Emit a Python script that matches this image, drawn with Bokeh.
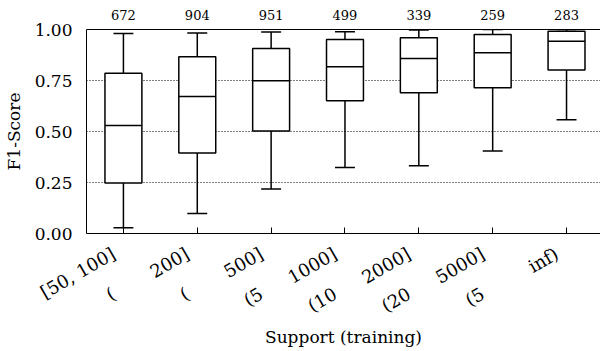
import math
from bokeh.plotting import figure
from bokeh.models import ColumnDataSource, FixedTicker, LinearAxis, Range1d
from bokeh.embed import file_html
from bokeh.resources import INLINE

# ---- data ----
bin_labels_top = ["[50, 100]", "200]", "500]", "1000]", "2000]", "5000]", "inf)"]
bin_labels_low = ["(", "(", "(5", "(10", "(20", "(5", ""]
counts = [672, 904, 951, 499, 339, 259, 283]
whisk_hi = [0.980, 0.983, 0.988, 0.989, 0.997, 1.000, 1.000]
q3 = [0.785, 0.866, 0.907, 0.951, 0.959, 0.976, 0.992]
median = [0.529, 0.671, 0.749, 0.817, 0.858, 0.886, 0.943]
q1 = [0.248, 0.394, 0.503, 0.651, 0.690, 0.715, 0.801]
whisk_lo = [0.028, 0.098, 0.218, 0.324, 0.332, 0.404, 0.557]
y_ticks = [0.0, 0.25, 0.5, 0.75, 1.0]

FONT = "DejaVu Serif"
ANG = math.pi / 6
PAD = "\u00a0" * 2   # trailing padding shifts right-aligned rotated labels left of the tick

pos = list(range(1, len(counts) + 1))
src = ColumnDataSource(dict(
    x=pos, q1=q1, q3=q3, med=median, lo=whisk_lo, hi=whisk_hi,
    xl=[p - 0.25 for p in pos], xr=[p + 0.25 for p in pos],
    cl=[p - 0.135 for p in pos], cr=[p + 0.135 for p in pos],
))

p = figure(width=600, height=350, output_backend="svg", toolbar_location=None,
           x_range=Range1d(0.5, 7.46), y_range=Range1d(0, 1.0),
           min_border_left=83, min_border_right=0, min_border_top=29, min_border_bottom=116)
p.outline_line_color = None
p.background_fill_color = "white"

# grid
p.xgrid.visible = False
p.ygrid.ticker = FixedTicker(ticks=y_ticks)
p.ygrid.grid_line_color = "black"
p.ygrid.grid_line_dash = "1 2"
p.ygrid.grid_line_width = 1

# boxes
p.segment(x0="x", y0="q3", x1="x", y1="hi", source=src, line_color="black", line_width=1.5)
p.segment(x0="x", y0="lo", x1="x", y1="q1", source=src, line_color="black", line_width=1.5)
p.vbar(x="x", bottom="q1", top="q3", width=0.5, source=src, fill_color="white",
       line_color="black", line_width=1.5)
p.segment(x0="xl", y0="med", x1="xr", y1="med", source=src, line_color="black", line_width=1.5)
p.segment(x0="cl", y0="hi", x1="cr", y1="hi", source=src, line_color="black", line_width=1.5)
p.segment(x0="cl", y0="lo", x1="cr", y1="lo", source=src, line_color="black", line_width=1.5)

# y axis
ya = p.yaxis[0]
ya.ticker = FixedTicker(ticks=y_ticks)
ya.major_label_overrides = {t: f"{t:.2f}" for t in y_ticks}
ya.major_tick_line_color = None
ya.minor_tick_line_color = None
ya.axis_line_color = "black"
ya.major_label_text_font = FONT
ya.major_label_text_font_size = "17px"
ya.major_label_text_color = "black"
ya.major_label_standoff = 8
ya.axis_label = "F1-Score"
ya.axis_label_text_font = FONT
ya.axis_label_text_font_size = "17px"
ya.axis_label_text_font_style = "normal"
ya.axis_label_text_color = "black"
ya.axis_label_standoff = 8

# x axis (main): ticks + first part of rotated labels
xa = p.xaxis[0]
xa.ticker = FixedTicker(ticks=pos)
xa.major_label_overrides = {i: lab + PAD for i, lab in zip(pos, bin_labels_top)}
xa.major_label_orientation = ANG
xa.major_tick_in = 6
xa.major_tick_out = 0
xa.major_tick_line_color = "black"
xa.minor_tick_line_color = None
xa.axis_line_color = "black"
xa.major_label_text_font = FONT
xa.major_label_text_font_size = "18px"
xa.major_label_text_color = "black"
xa.major_label_standoff = 13

# second below axis: lower label fragments + axis title
xb = LinearAxis(ticker=FixedTicker(ticks=pos),
                major_label_overrides={i: (lab + PAD if lab else "") for i, lab in zip(pos, bin_labels_low)})
xb.major_label_orientation = ANG
xb.axis_line_color = None
xb.major_tick_line_color = None
xb.minor_tick_line_color = None
xb.major_label_text_font = FONT
xb.major_label_text_font_size = "18px"
xb.major_label_text_color = "black"
xb.major_label_standoff = -34
xb.axis_label = "Support (training)"
xb.axis_label_text_font = FONT
xb.axis_label_text_font_size = "17px"
xb.axis_label_text_font_style = "normal"
xb.axis_label_text_color = "black"
xb.axis_label_standoff = -1
p.add_layout(xb, "below")

# top axis with counts
ta = LinearAxis(ticker=FixedTicker(ticks=pos),
                major_label_overrides={i: str(c) for i, c in zip(pos, counts)})
ta.major_tick_line_color = None
ta.minor_tick_line_color = None
ta.axis_line_color = "black"
ta.major_label_text_font = FONT
ta.major_label_text_font_size = "13px"
ta.major_label_text_color = "black"
ta.major_label_standoff = 4
p.add_layout(ta, "above")

open("out.html", "w").write(file_html(p, INLINE))
